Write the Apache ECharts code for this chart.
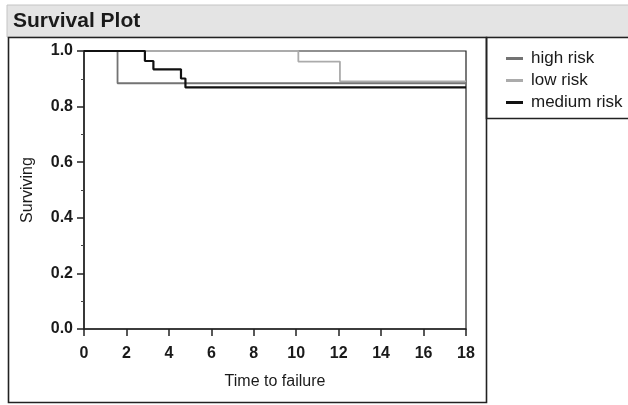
<!DOCTYPE html>
<html><head><meta charset="utf-8">
<script src="https://cdn.jsdelivr.net/npm/echarts@6/dist/echarts.min.js"></script>
<style>html,body{margin:0;padding:0;background:#fff}#c{width:628px;height:405px}</style>
</head><body><div id="c"></div>
<script>
var seriesNames = ['high risk', 'low risk', 'medium risk'];
var highRisk = [[0, 1.0], [1.58, 0.884], [18, 0.884]];
var lowRisk = [[0, 1.0], [10.1, 0.962], [12.06, 0.891], [18, 0.891]];
var mediumRisk = [[0, 1.0], [2.87, 0.964], [3.27, 0.934], [4.57, 0.901], [4.78, 0.869], [18, 0.869]];
var colors = ['#737373', '#ababab', '#111111'];
var FONT = '"Liberation Sans", Arial, sans-serif';

var chart = echarts.init(document.getElementById('c'));
chart.setOption({
  animation: false,
  textStyle: {fontFamily: FONT},
  graphic: [
    {type: 'rect', shape: {x: 7, y: 5, width: 630, height: 32}, style: {fill: '#e4e4e4', stroke: '#c4c4c4', lineWidth: 1}, z: -1},
    {type: 'text', left: 13, top: 11, style: {text: 'Survival Plot', font: 'bold 21px ' + FONT, fill: '#1a1a1a'}},
    {type: 'rect', shape: {x: 8.5, y: 37.5, width: 478, height: 365}, style: {fill: 'none', stroke: '#222', lineWidth: 1.6}},
    {type: 'rect', shape: {x: 486.5, y: 37.5, width: 150, height: 81}, style: {fill: 'none', stroke: '#222', lineWidth: 1.6}}
  ],
  legend: {
    orient: 'vertical', left: 501, top: 45, itemGap: 5,
    itemWidth: 17, itemHeight: 3, icon: 'rect',
    data: seriesNames,
    textStyle: {fontSize: 17, color: '#1a1a1a', fontFamily: FONT, padding: [0, 0, 0, 3]}
  },
  grid: {left: 84, right: 162, top: 51, bottom: 76, show: true, borderColor: '#222', borderWidth: 1.2},
  xAxis: {
    type: 'value', min: 0, max: 18, interval: 2,
    name: 'Time to failure', nameLocation: 'middle', nameGap: 45,
    nameTextStyle: {fontSize: 16, color: '#1a1a1a', fontFamily: FONT},
    axisLine: {lineStyle: {color: '#222', width: 1.5}},
    axisTick: {length: 7, lineStyle: {color: '#222', width: 1.5}},
    axisLabel: {fontSize: 16, color: '#1a1a1a', fontFamily: FONT, fontWeight: 'bold', margin: 17},
    splitLine: {show: false}
  },
  yAxis: {
    type: 'value', min: 0, max: 1, interval: 0.2,
    name: 'Surviving', nameLocation: 'middle', nameGap: 48, nameRotate: 90,
    nameTextStyle: {fontSize: 16, color: '#1a1a1a', fontFamily: FONT},
    axisLine: {show: true, lineStyle: {color: '#222', width: 1.5}},
    axisTick: {show: true, length: 7, lineStyle: {color: '#222', width: 1.5}},
    minorTick: {show: true, splitNumber: 2, length: 3, lineStyle: {color: '#444'}},
    axisLabel: {fontSize: 16, color: '#1a1a1a', fontFamily: FONT, fontWeight: 'bold', margin: 11,
      formatter: function (v) { return v.toFixed(1); }},
    splitLine: {show: false}
  },
  series: [
    {name: seriesNames[0], type: 'line', step: 'end', data: highRisk, showSymbol: false, symbol: 'none',
     lineStyle: {color: colors[0], width: 1.8}, itemStyle: {color: colors[0]}, z: 3},
    {name: seriesNames[1], type: 'line', step: 'end', data: lowRisk, showSymbol: false, symbol: 'none',
     lineStyle: {color: colors[1], width: 1.8}, itemStyle: {color: colors[1]}, z: 2},
    {name: seriesNames[2], type: 'line', step: 'end', data: mediumRisk, showSymbol: false, symbol: 'none',
     lineStyle: {color: colors[2], width: 2.2}, itemStyle: {color: colors[2]}, z: 4}
  ]
});
</script></body></html>
